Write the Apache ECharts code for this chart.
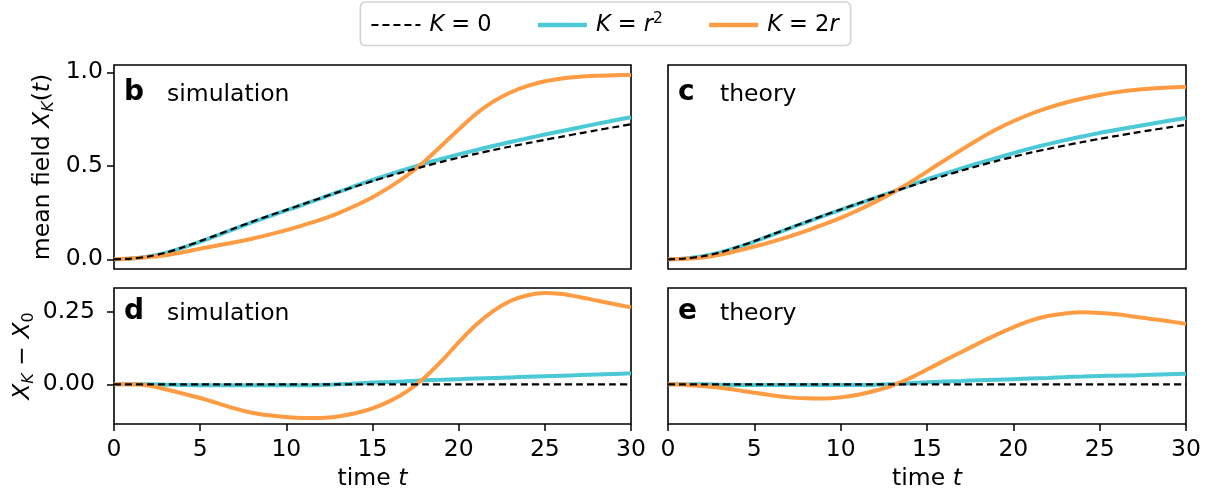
<!DOCTYPE html>
<html>
<head>
<meta charset="utf-8">
<script src="https://cdn.jsdelivr.net/npm/echarts@6/dist/echarts.min.js"></script>
<style>
html,body{margin:0;padding:0;background:#fff;}
#chart{width:1209px;height:500px;}
</style>
</head>
<body>
<div id="chart"></div>
<script>
// time grid
const timeT = [0,1,2,3,4,5,6,7,8,9,10,11,12,13,14,15,16,17,18,19,20,21,22,23,24,25,26,27,28,29,30];
// panel b (simulation, mean field)
const simK0  = [0,0.004,0.015,0.035,0.064,0.097,0.131,0.166,0.2,0.233,0.264,0.296,0.328,0.359,0.389,0.418,0.446,0.472,0.497,0.521,0.543,0.564,0.584,0.603,0.621,0.639,0.656,0.673,0.69,0.706,0.722];
const simKr2 = [0,0.004,0.015,0.034,0.062,0.094,0.128,0.163,0.197,0.23,0.261,0.293,0.326,0.359,0.392,0.424,0.454,0.483,0.511,0.537,0.561,0.584,0.606,0.627,0.647,0.667,0.686,0.705,0.724,0.742,0.76];
const simK2r = [0,0.004,0.012,0.022,0.038,0.057,0.074,0.091,0.11,0.132,0.156,0.183,0.212,0.246,0.286,0.332,0.386,0.448,0.522,0.607,0.694,0.777,0.843,0.892,0.927,0.952,0.967,0.976,0.981,0.984,0.986];
// panel c (theory, mean field)
const thK0  = [0,0.004,0.016,0.036,0.065,0.097,0.131,0.166,0.2,0.234,0.266,0.298,0.329,0.36,0.39,0.419,0.447,0.474,0.5,0.525,0.548,0.57,0.59,0.609,0.627,0.644,0.66,0.676,0.691,0.705,0.719];
const thKr2 = [0,0.004,0.016,0.035,0.063,0.095,0.129,0.164,0.198,0.232,0.264,0.296,0.328,0.361,0.394,0.427,0.457,0.486,0.514,0.541,0.568,0.593,0.616,0.637,0.657,0.676,0.693,0.709,0.725,0.741,0.756];
const thK2r = [0,0.003,0.01,0.024,0.045,0.068,0.093,0.121,0.152,0.185,0.221,0.262,0.307,0.356,0.41,0.469,0.528,0.586,0.642,0.694,0.738,0.777,0.81,0.837,0.86,0.879,0.894,0.905,0.913,0.919,0.923];
// panel d (simulation, difference)
const simDK0  = [0,0,0,0,0,0,0,0,0,0,0,0,0,0,0,0,0,0,0,0,0,0,0,0,0,0,0,0,0,0,0];
const simDKr2 = [0,0,0,-0.001,-0.002,-0.003,-0.003,-0.003,-0.003,-0.003,-0.003,-0.003,-0.002,0,0.003,0.006,0.008,0.011,0.014,0.016,0.018,0.02,0.022,0.024,0.026,0.028,0.03,0.032,0.034,0.036,0.038];
const simDK2r = [0,0,-0.004,-0.017,-0.032,-0.047,-0.065,-0.083,-0.098,-0.107,-0.113,-0.116,-0.116,-0.111,-0.1,-0.083,-0.058,-0.024,0.022,0.08,0.145,0.205,0.253,0.288,0.308,0.316,0.312,0.302,0.29,0.278,0.266];
// panel e (theory, difference)
const thDK0  = [0,0,0,0,0,0,0,0,0,0,0,0,0,0,0,0,0,0,0,0,0,0,0,0,0,0,0,0,0,0,0];
const thDKr2 = [0,0,0,-0.001,-0.002,-0.002,-0.002,-0.002,-0.002,-0.002,-0.002,-0.002,-0.001,0.001,0.004,0.007,0.01,0.012,0.014,0.016,0.018,0.02,0.022,0.025,0.027,0.029,0.03,0.031,0.033,0.035,0.037];
const thDK2r = [0,-0.001,-0.006,-0.012,-0.02,-0.029,-0.038,-0.045,-0.048,-0.049,-0.045,-0.036,-0.022,-0.004,0.021,0.051,0.082,0.112,0.142,0.171,0.197,0.22,0.236,0.245,0.249,0.247,0.242,0.234,0.226,0.218,0.209];
// ticks
const xTicks = [0,5,10,15,20,25,30];
const yTopTicks = [0,0.5,1.0];
const yBotTicks = [0,0.25];

const FONT = 'DejaVu Sans';
const CYAN = '#4bc9d6';
const ORANGE = '#ff9b42';
const FS = 23.5;

const chart = echarts.init(document.getElementById('chart'));

const grids = [
  {left:114, top:65, width:517, height:204},
  {left:668, top:65, width:518, height:204},
  {left:114, top:288, width:517, height:136},
  {left:668, top:288, width:518, height:136}
].map(g => Object.assign(g, {show:true, borderColor:'#000', borderWidth:1.6, backgroundColor:'#fff',
  containLabel:false, outerBoundsMode:'none'}));

const rich = {
  i: {fontStyle:'italic', fontFamily:FONT, fontSize:FS, color:'#000'},
  sub: {fontStyle:'italic', fontFamily:FONT, fontSize:16, color:'#000', padding:[12,0,0,0]},
  subr: {fontFamily:FONT, fontSize:16, color:'#000', padding:[12,0,0,0]},
  li: {fontStyle:'italic', fontFamily:FONT, fontSize:22.5, color:'#000'},
  supr: {fontFamily:FONT, fontSize:15.5, color:'#000', padding:[0,0,12,0]}
};

function xAxis(idx, bottom) {
  return {
    type:'value', gridIndex:idx, min:0, max:30, interval:5,
    axisLine:{show:false, onZero:false},
    splitLine:{show:false},
    axisTick:{show:bottom, length:7, lineStyle:{color:'#000', width:1.5}},
    axisLabel:{show:bottom, fontFamily:FONT, fontSize:FS, color:'#000', margin:14,
      customValues: xTicks},
    name: bottom ? 'time {i|t}' : '',
    nameLocation:'middle', nameGap:43,
    nameTextStyle:{fontFamily:FONT, fontSize:FS, color:'#000', rich:rich}
  };
}
function yAxis(idx, top, left) {
  const ticks = top ? yTopTicks : yBotTicks;
  return {
    type:'value', gridIndex:idx,
    min: top ? -0.052 : -0.137,
    max: top ? 1.039 : 0.333,
    axisLine:{show:false, onZero:false},
    splitLine:{show:false},
    axisTick:{show:left, length:7, lineStyle:{color:'#000', width:1.5}, customValues: ticks},
    axisLabel:{show:left, fontFamily:FONT, fontSize:FS, color:'#000', margin: top ? 11 : 19,
      customValues: ticks,
      formatter: v => top ? v.toFixed(1) : v.toFixed(2)},
    name: left ? (top ? 'mean field {i|X}{sub|K}({i|t})' : '{i|X}{sub|K} \u2212 {i|X}{subr|0}') : '',
    nameLocation:'middle', nameGap: top ? 57 : 77, nameRotate:90,
    nameTextStyle:{fontFamily:FONT, fontSize:FS, color:'#000', rich:rich}
  };
}

function mk(name, idx, vals) {
  const isDash = name === 'K0';
  const color = name === 'K0' ? '#000' : (name === 'Kr2' ? CYAN : ORANGE);
  return {
    name:name, type:'line', xAxisIndex:idx, yAxisIndex:idx,
    data: timeT.map((x,i)=>[x, vals[i]]),
    symbol:'none', smooth:0.3, silent:true, animation:false,
    lineStyle:{color:color, width: isDash ? 2.2 : 4, type: isDash ? [7,4] : 'solid', cap:'butt'},
    itemStyle:{color:color},
    z: isDash ? 4 : (name === 'K2r' ? 3 : 2)
  };
}

const panels = [
  [simKr2, simK2r, simK0],
  [thKr2, thK2r, thK0],
  [simDKr2, simDK2r, simDK0],
  [thDKr2, thDK2r, thDK0]
];
const series = [];
panels.forEach((p, idx) => {
  series.push(mk('Kr2', idx, p[0]));
  series.push(mk('K2r', idx, p[1]));
  series.push(mk('K0', idx, p[2]));
});

const legendText = {
  'K0': '{li|K} = 0',
  'Kr2': '{li|K} = {li|r}{supr|2}',
  'K2r': '{li|K} = 2{li|r}'
};

function panelText(x, y, letter, word, wordDx) {
  return [
    {type:'text', left:x, top:y, z:100,
      style:{text:letter, fontFamily:FONT, fontWeight:'bold', fontSize:28, fill:'#000'}},
    {type:'text', left:x + wordDx, top:y + 4, z:100,
      style:{text:word, fontFamily:FONT, fontSize:FS, fill:'#000'}}
  ];
}

chart.setOption({
  animation:false,
  textStyle:{fontFamily:FONT},
  grid: grids,
  xAxis: [xAxis(0,false), xAxis(1,false), xAxis(2,true), xAxis(3,true)],
  yAxis: [yAxis(0,true,true), yAxis(1,true,false), yAxis(2,false,true), yAxis(3,false,false)],
  legend: {
    data:[
      {name:'K0', itemStyle:{opacity:0}, lineStyle:{color:'#000', width:2.2, type:[7,4]}},
      {name:'Kr2', itemStyle:{opacity:0}, lineStyle:{color:CYAN, width:4.5, type:'solid'}},
      {name:'K2r', itemStyle:{opacity:0}, lineStyle:{color:ORANGE, width:4.5, type:'solid'}}
    ],
    left:'center', top:2,
    orient:'horizontal',
    itemWidth:49, itemHeight:14, itemGap:44,
    padding:[9,12,9,10],
    borderColor:'#d3d3d3', borderWidth:1.6, borderRadius:5,
    backgroundColor:'#fff',
    selectedMode:false,
    formatter: n => legendText[n],
    textStyle:{fontFamily:FONT, fontSize:22.5, color:'#000', padding:[0,0,0,4], rich:rich}
  },
  graphic: [].concat(
    panelText(124, 79, 'b', 'simulation', 43),
    panelText(678, 79, 'c', 'theory', 42),
    panelText(124, 298, 'd', 'simulation', 43),
    panelText(678, 298, 'e', 'theory', 42)
  ),
  series: series
});
</script>
</body>
</html>
